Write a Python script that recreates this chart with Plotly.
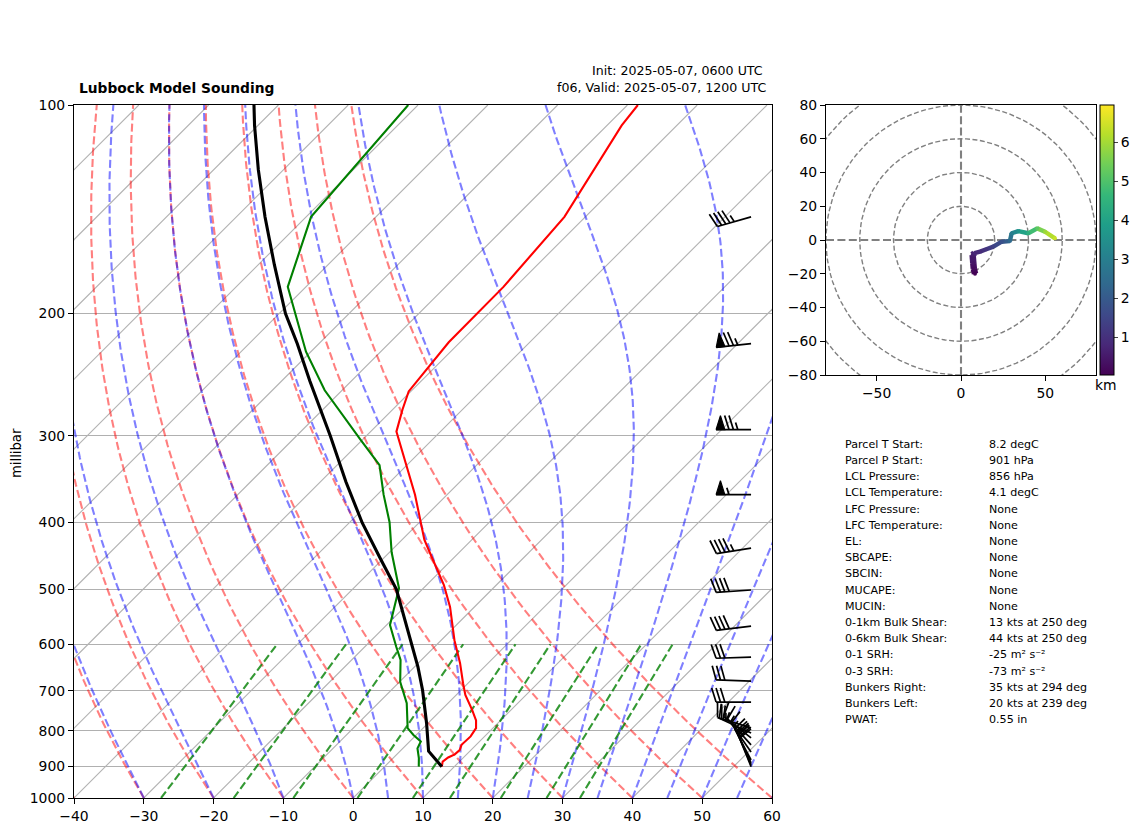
import numpy as np
import plotly.graph_objects as go
from plotly.colors import sample_colorscale

W, H = 1142, 832
AX_L, AX_R, AX_T, AX_B = 74, 772, 105, 798
HD_L, HD_R, HD_T, HD_B = 826, 1096, 105, 375

# sounding
temp_p = [901,886,874,865,853,838,815,793,773,746,710,683,639,592,530,493,443,424,365,331,296,275,259,220,183,145,107,100]
temp_c = [8.2,7.6,7.8,8.3,8.4,7.9,8.0,7.6,6.5,4.4,1.3,-0.7,-4.0,-8.1,-13.5,-17.5,-24.1,-26.8,-34.6,-40.1,-46.3,-48.6,-50.3,-51.6,-51.7,-53.0,-57.9,-58.5]
dewp_p = [901,876,848,829,811,793,730,680,632,605,563,498,442,400,365,331,304,258,227,183,145,100]
dewp_c = [4.9,3.7,2.1,1.6,-0.4,-2.2,-5.9,-9.9,-13.0,-15.5,-19.5,-23.5,-29.7,-34.3,-39.1,-43.9,-50.3,-62.5,-70.7,-82.6,-89.3,-91.4]
parcel_p = [901,856,780,699,647,592,500,450,401,350,300,250,221,200,170,145,124,107,100]
parcel_c = [8.2,4.1,-0.2,-5.5,-9.5,-14.4,-23.7,-30.6,-38.1,-46.3,-55.2,-66.0,-73.1,-79.1,-87.7,-95.9,-103.6,-110.5,-113.5]

# wind barbs
barb_p = [145,221,294,365,436,501,565,626,678,727,792,806,819,838,858,881,890,896,901]
barb_dir = [254,264,270,270,261,266,263,268,272,270,287,295,308,318,325,332,335,337,338]
barb_spd = [45,75,75,55,45,40,40,30,30,30,25,20,15,15,15,15,20,20,20]

# hodograph
hodo_u = [8.3,7.6,7.3,6.9,8.0,11.3,15.0,19.2,24.1,27.0,29.0,30.0,34.0,39.9,45.2,49.8,55.7]
hodo_v = [-20,-17,-13.8,-8.9,-7.8,-6.9,-5.5,-3.9,-1.0,-0.8,-0.6,4.0,5.3,4.0,6.9,4.9,1.0]
hodo_h = [0.03,0.2,0.4,0.6,0.75,0.9,1.1,1.4,1.8,2.1,2.4,3.0,3.6,4.4,5.2,5.9,6.4]
hodo_rings = [20,40,60,80,100]
cbar_ticks = [1,2,3,4,5,6]
cbar_range = [0.03,6.95]

# background lines
isotherm_c = list(range(-130, 61, 10))
dry_theta_c = list(range(-40, 61, 10))
moist_t0_c = [-30,-20,-10,0,5,10,15,20,25,30,35,40,45,50,55,60]
mix_ratio = [0.0004,0.001,0.002,0.004,0.007,0.01,0.016,0.024,0.032]
p_ticks = [100,200,300,400,500,600,700,800,900,1000]
t_ticks = [-40,-30,-20,-10,0,10,20,30,40,50,60]

info_labels = ["Parcel T Start:","Parcel P Start:","LCL Pressure:","LCL Temperature:","LFC Pressure:","LFC Temperature:","EL:","SBCAPE:","SBCIN:","MUCAPE:","MUCIN:","0-1km Bulk Shear:","0-6km Bulk Shear:","0-1 SRH:","0-3 SRH:","Bunkers Right:","Bunkers Left:","PWAT:"]
info_values = ["8.2 degC","901 hPa","856 hPa","4.1 degC","None","None","None","None","None","None","None","13 kts at 250 deg","44 kts at 250 deg","-25 m² s⁻²","-73 m² s⁻²","35 kts at 294 deg","20 kts at 239 deg","0.55 in"]

px_per_deg = (AX_R - AX_L) / 100.0
px_per_dec = float(AX_B - AX_T)
SKEW = px_per_dec / px_per_deg
KAPPA = 287.05 / 1014.0

def skew(t, p):
    return np.asarray(t, float) + SKEW * np.log10(1000.0 / np.asarray(p, float))

def p2y(p):
    return AX_B - px_per_dec * np.log10(1000.0 / np.asarray(p, float))

FONT = "DejaVu Sans"
fig = go.Figure()
fine_p = np.geomspace(1000, 100, 160)

def line(x, y, color, width, dash=None, xa="x", ya="y"):
    fig.add_trace(go.Scatter(x=list(x), y=list(y), mode="lines", xaxis=xa, yaxis=ya, showlegend=False, hoverinfo="skip",
                             line=dict(color=color, width=width, dash=dash, shape="linear")))

DASH = "8px,3.4px"
# isotherms
for t in isotherm_c:
    line(skew([t, t], [1000, 100]), [1000, 100], "rgb(178,178,178)", 1.1)
# dry adiabats
for th in dry_theta_c:
    tt = (th + 273.15) * (fine_p / 1000.0) ** KAPPA - 273.15
    line(skew(tt, fine_p), fine_p, "rgba(255,0,0,0.5)", 2.1, DASH)
# moist adiabats
def es(t):
    return 6.112 * np.exp(17.67 * t / (t + 243.5))
def moist_rate(p, tk):
    e = es(tk - 273.15)
    rs = 0.62197 * e / (p - e)
    Lv, Rd, Cp = 2.501e6, 287.05, 1014.0
    return (Rd * tk + Lv * rs) / (Cp + Lv * Lv * rs * 0.62197 / (Rd * tk * tk)) / p
for t0 in moist_t0_c:
    tk = t0 + 273.15
    tl = [tk]
    for i in range(1, len(fine_p)):
        dp = fine_p[i] - fine_p[i-1]
        k1 = moist_rate(fine_p[i-1], tk)
        k2 = moist_rate(fine_p[i-1] + dp/2, tk + k1*dp/2)
        k3 = moist_rate(fine_p[i-1] + dp/2, tk + k2*dp/2)
        k4 = moist_rate(fine_p[i], tk + k3*dp)
        tk = tk + dp*(k1 + 2*k2 + 2*k3 + k4)/6
        tl.append(tk)
    line(skew(np.array(tl) - 273.15, fine_p), fine_p, "rgba(0,0,255,0.5)", 2.1, DASH)
# mixing ratio
mp = np.array([1000.0, 600.0])
for w in mix_ratio:
    e = mp * w / (0.62197 + w)
    lg = np.log(e / 6.112)
    td = 243.5 * lg / (17.67 - lg)
    line(skew(td, mp), mp, "rgba(0,128,0,0.8)", 2.1, DASH)
# profiles
line(skew(temp_c, temp_p), temp_p, "rgb(255,0,0)", 2.1)
line(skew(dewp_c, dewp_p), dewp_p, "rgb(0,128,0)", 2.1)
line(skew(parcel_c, parcel_p), parcel_p, "rgb(0,0,0)", 3.1)

# barbs on full-figure pixel axes
BX = AX_L + 0.97 * (AX_R - AX_L)
L = 35.0
def barb(p, d, s):
    y0 = float(p2y(p))
    rad = np.radians(d)
    ux, uy = np.sin(rad), -np.cos(rad)   # towards wind origin, screen coords
    nx, ny = uy, -ux                     # feather side
    if ny > 0:
        nx, ny = -nx, -ny
    tipx, tipy = BX + ux * L, y0 + uy * L
    lx = [BX, tipx]; ly = [y0, tipy]
    pos = L
    r = int(5 * round(s / 5.0))
    nf = r // 50; r -= nf * 50
    nb = r // 10; r -= nb * 10
    nh = r // 5
    for _ in range(nf):
        a = (BX + ux*pos, y0 + uy*pos)
        b = (BX + ux*(pos - 0.125*L) + nx*0.4*L, y0 + uy*(pos - 0.125*L) + ny*0.4*L)
        c = (BX + ux*(pos - 0.25*L), y0 + uy*(pos - 0.25*L))
        fig.add_trace(go.Scatter(x=[a[0],b[0],c[0],a[0]], y=[a[1],b[1],c[1],a[1]], mode="lines", fill="toself",
                                 fillcolor="black", line=dict(color="black", width=1.2), xaxis="x3", yaxis="y3",
                                 showlegend=False, hoverinfo="skip"))
        pos -= 0.25*L + 0.06*L
    if nf:
        pos -= 0.06*L
    for _ in range(nb):
        lx += [None, BX+ux*pos, BX+ux*(pos+0.125*L)+nx*0.4*L]
        ly += [None, y0+uy*pos, y0+uy*(pos+0.125*L)+ny*0.4*L]
        pos -= 0.125*L
    if nh:
        if nb == 0 and nf == 0:
            pos -= 0.125*L
        lx += [None, BX+ux*pos, BX+ux*(pos+0.0625*L)+nx*0.2*L]
        ly += [None, y0+uy*pos, y0+uy*(pos+0.0625*L)+ny*0.2*L]
    line(lx, ly, "black", 1.7, None, "x3", "y3")
for a, b, c in zip(barb_p, barb_dir, barb_spd):
    barb(a, b, c)

# hodograph
th = np.radians(np.arange(0, 361, 3))
for r in hodo_rings:
    line(r*np.cos(th), r*np.sin(th), "rgb(128,128,128)", 1.4, "5px,2.5px", "x2", "y2")
line([-80, 80], [0, 0], "rgb(128,128,128)", 2.1, DASH, "x2", "y2")
line([0, 0], [-80, 80], "rgb(128,128,128)", 2.1, DASH, "x2", "y2")
hmin, hmax = cbar_range
for i in range(len(hodo_u) - 1):
    mid = 0.5*(hodo_h[i]+hodo_h[i+1])
    c = sample_colorscale("Viridis", [(mid - hmin) / (hmax - hmin)])[0]
    line(hodo_u[i:i+2], hodo_v[i:i+2], c, 6.5 if mid < 0.7 else 4.4, None, "x2", "y2")
fig.add_trace(go.Scatter(x=hodo_u, y=hodo_v, mode="markers", xaxis="x2", yaxis="y2", showlegend=False, hoverinfo="skip",
    marker=dict(size=4, color=hodo_h, colorscale="Viridis", cmin=hmin, cmax=hmax, showscale=True,
        colorbar=dict(x=1100/W, xanchor="left", xref="paper", y=1-HD_B/H, yanchor="bottom", yref="paper",
                      len=(HD_B-HD_T)/H, lenmode="fraction", thickness=14, thicknessmode="pixels",
                      tickvals=cbar_ticks, ticks="outside", ticklen=4, tickwidth=1, outlinewidth=1, outlinecolor="black",
                      xpad=0, ypad=0, tickfont=dict(family=FONT, size=13.9, color="black")))))

ann = []
def text(x, y, s, size, anchor="left", bold=False, rot=0):
    ann.append(dict(x=x/W, y=1-y/H, xref="paper", yref="paper", text=("<b>%s</b>" % s) if bold else s, showarrow=False,
                    xanchor=anchor, yanchor="middle", textangle=rot, align=anchor if anchor != "center" else "center",
                    font=dict(family=FONT, size=size, color="black"), xshift=0, yshift=0, borderpad=0))
text(78, 88, "Lubbock Model Sounding", 13.8, bold=True)
text(763.5, 70, "Init: 2025-05-07, 0600 UTC", 12.6, "right")
text(766.5, 88, "f06, Valid: 2025-05-07, 1200 UTC", 12.6, "right")
text(16, 453, "millibar", 13.2, "center", rot=-90)
text(1106, 384.5, "km", 13.9, "center")
for i, (a, b) in enumerate(zip(info_labels, info_values)):
    yy = 444.2 + i * 16.2
    text(844, yy, a, 11.1)
    text(988, yy, b, 11.1)

axis_common = dict(showline=True, linecolor="black", linewidth=1.2, mirror=True, ticks="outside", ticklen=5, tickwidth=1.2, automargin=False,
                   tickcolor="black", tickfont=dict(family=FONT, size=13.9, color="black"), zeroline=False)
fig.update_layout(
    template="none",
    width=W, height=H, autosize=False, margin=dict(l=0, r=0, t=0, b=0), paper_bgcolor="white", plot_bgcolor="rgba(0,0,0,0)", showlegend=False,
    annotations=ann,
    xaxis=dict(domain=[AX_L/W, AX_R/W], range=[-40, 60], tickvals=t_ticks, showgrid=False, anchor="y", **axis_common),
    yaxis=dict(domain=[1-AX_B/H, 1-AX_T/H], type="log", range=[3, 2], tickvals=p_ticks, ticktext=[str(v) for v in p_ticks], showgrid=True,
               gridcolor="rgb(176,176,176)", gridwidth=1.1, anchor="x", **axis_common),
    xaxis2=dict(domain=[HD_L/W, HD_R/W], range=[-80, 80], tickvals=[-50, 0, 50], showgrid=False, anchor="y2", **axis_common),
    yaxis2=dict(domain=[1-HD_B/H, 1-HD_T/H], range=[-80, 80], tickvals=list(range(-80, 81, 20)), showgrid=False, anchor="x2", **axis_common),
    xaxis3=dict(domain=[0, 1], range=[0, W], visible=False, anchor="y3"),
    yaxis3=dict(domain=[0, 1], range=[H, 0], visible=False, anchor="x3"),
)
fig.write_html("out.html", config={"displayModeBar": False}, post_script="document.body.style.margin='0';")
